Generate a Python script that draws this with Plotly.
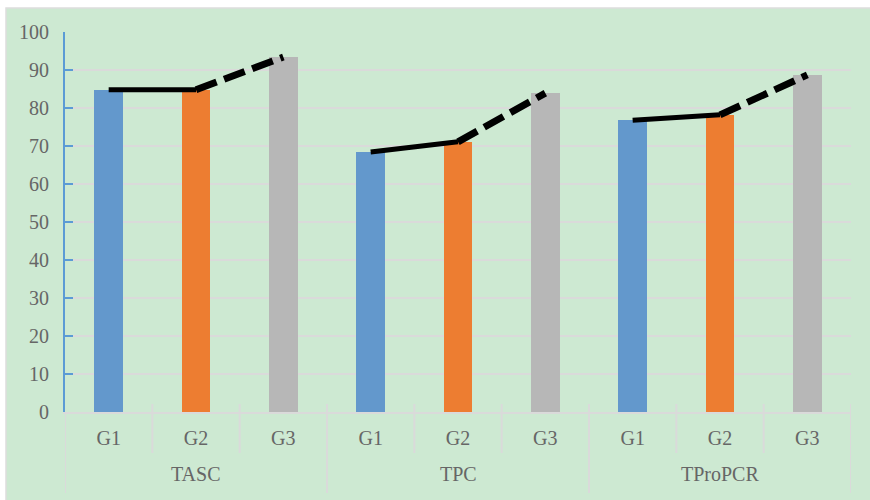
import plotly.graph_objects as go

# Chart data
groups = ["TASC", "TPC", "TProPCR"]
subgroups = ["G1", "G2", "G3"]
g1_values = [84.8, 68.4, 76.8]
g2_values = [84.8, 71.1, 78.2]
g3_values = [93.4, 83.9, 88.7]
y_ticks = list(range(0, 101, 10))

bar_colors = {"G1": "#6398CC", "G2": "#ED7D31", "G3": "#B7B7B7"}
series = {"G1": g1_values, "G2": g2_values, "G3": g3_values}

GREEN = "#CDE9D2"
GRID = "#DADADA"
TEXT = "#666666"
FONT = "'Liberation Serif', 'Times New Roman', serif"

n_sub = len(subgroups)
fig = go.Figure()

# one bar per (group, subgroup) position on a shared index axis
for si, sg in enumerate(subgroups):
    xs = [gi * n_sub + si for gi in range(len(groups))]
    fig.add_trace(go.Bar(
        x=xs, y=series[sg], width=0.33,
        marker=dict(color=bar_colors[sg], line=dict(width=0)),
        showlegend=False, hoverinfo="y",
    ))

# trend lines: solid G1->G2, dashed G2->G3 inside each group
for gi in range(len(groups)):
    base = gi * n_sub
    fig.add_trace(go.Scatter(
        x=[base, base + 1], y=[g1_values[gi], g2_values[gi]],
        mode="lines", line=dict(color="black", width=5),
        showlegend=False, hoverinfo="skip",
    ))
    fig.add_trace(go.Scatter(
        x=[base + 1, base + 2], y=[g2_values[gi], g3_values[gi]],
        mode="lines", line=dict(color="black", width=7, dash="22px,8px"),
        showlegend=False, hoverinfo="skip",
    ))

PLOT_H = 380.0
def py(px):
    """pixel row -> paper y for a plot area spanning rows 32..412"""
    return (412 - px) / PLOT_H

shapes = []
# chart background panel with thin frame on top/left
shapes.append(dict(
    type="rect", xref="paper", yref="paper", layer="below",
    x0=(6 - 65) / 786, x1=1.1, y0=-0.3, y1=py(8),
    fillcolor=GREEN, line=dict(color="#DDDDDD", width=1.5),
))
# category dividers (lower level)
for gi in range(len(groups)):
    for k in range(1, n_sub):
        xb = gi * n_sub + k - 0.5
        shapes.append(dict(
            type="line", xref="x", yref="paper",
            x0=xb, x1=xb, y0=py(404), y1=py(453),
            line=dict(color=GRID, width=2),
        ))
# group dividers (span both label rows)
for gi in range(len(groups) + 1):
    xb = gi * n_sub - 0.5
    shapes.append(dict(
        type="line", xref="x", yref="paper",
        x0=xb, x1=xb, y0=py(412 if gi == 0 else 404), y1=py(493),
        line=dict(color=GRID, width=2),
    ))

annotations = []
for gi, g in enumerate(groups):
    annotations.append(dict(
        x=gi * n_sub + (n_sub - 1) / 2, y=py(474), xref="x", yref="paper",
        text=g, showarrow=False, xanchor="center", yanchor="middle",
        font=dict(family=FONT, size=20, color=TEXT),
    ))

tick_positions = list(range(len(groups) * n_sub))
tick_labels = [sg for _ in groups for sg in subgroups]

fig.update_layout(
    width=870, height=500,
    margin=dict(l=65, r=19, t=32, b=88),
    paper_bgcolor="white",
    plot_bgcolor=GREEN,
    bargap=0, barmode="overlay",
    shapes=shapes,
    annotations=annotations,
    font=dict(family=FONT, size=20, color=TEXT),
    xaxis=dict(
        range=[-0.5, len(tick_positions) - 0.5],
        tickmode="array", tickvals=tick_positions, ticktext=tick_labels,
        ticks="", showgrid=False, zeroline=False,
        showline=True, linecolor=GRID, linewidth=2,
        tickfont=dict(family=FONT, size=20, color=TEXT),
        ticklabelstandoff=7,
        fixedrange=True,
    ),
    yaxis=dict(
        range=[0, 100], tickmode="array", tickvals=y_ticks,
        showgrid=True, gridcolor=GRID, gridwidth=2,
        zeroline=False,
        showline=True, linecolor="#5B9BD5", linewidth=2,
        ticks="inside", ticklen=8, tickwidth=2, tickcolor="#5B9BD5",
        tickfont=dict(family=FONT, size=20, color=TEXT),
        ticklabelstandoff=10,
        fixedrange=True,
    ),
)

fig.write_html("out.html")
